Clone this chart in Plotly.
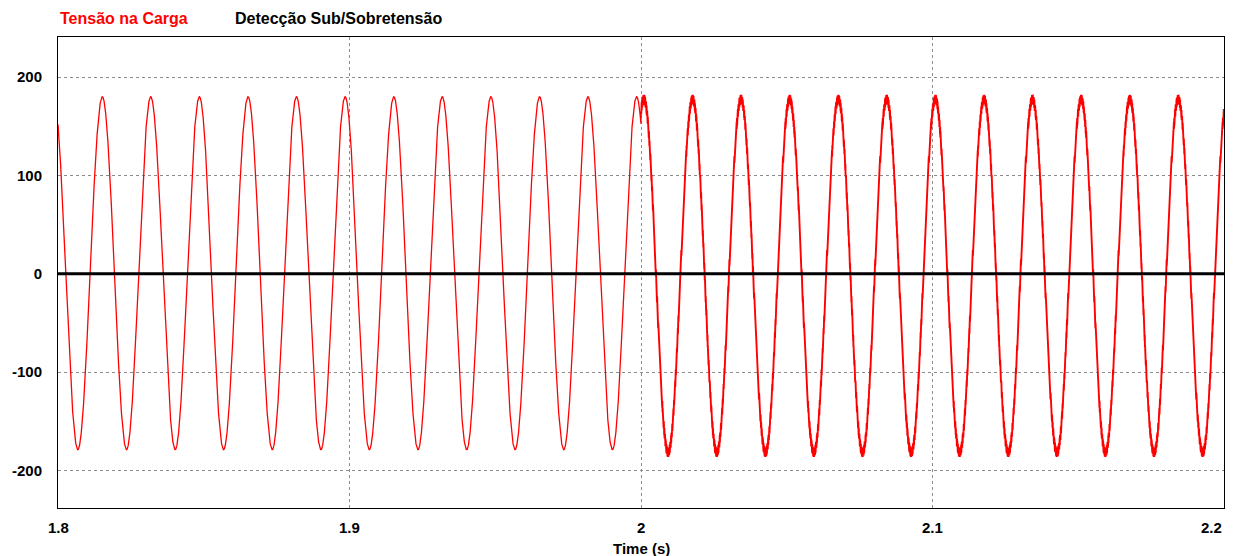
import numpy as np
import plotly.graph_objects as go

# --- Tensão na carga: instantes (s) e valores (V) dos picos e vales ---
# Trecho antes de 2.0 s (sem ondulação)
picos_antes_t = [1.7985, 1.8152, 1.8318, 1.8485, 1.8652, 1.8818, 1.8985,
                 1.9152, 1.9318, 1.9485, 1.9652, 1.9818, 1.9985]
picos_antes_v = [180, 180, 180, 180, 180, 180, 180, 180, 180, 180, 180, 180, 180]
vales_antes_t = [1.8068, 1.8235, 1.8402, 1.8568, 1.8735, 1.8902, 1.9068,
                 1.9235, 1.9402, 1.9568, 1.9735, 1.9902, 2.0068]
vales_antes_v = [-179, -179, -179, -179, -179, -179, -179, -179, -179, -179,
                 -179, -179, -179]

# Trecho depois de 2.0 s (com ondulação de chaveamento)
picos_depois_t = [2.0010, 2.0177, 2.0343, 2.0510, 2.0677, 2.0843, 2.1010,
                  2.1177, 2.1343, 2.1510, 2.1677, 2.1843, 2.2010]
picos_depois_v = [177.5, 177.5, 177.5, 177.5, 177.5, 177.5, 177.5, 177.5,
                  177.5, 177.5, 177.5, 177.5, 177.5]
vales_depois_t = [1.9927, 2.0093, 2.0260, 2.0427, 2.0593, 2.0760, 2.0927,
                  2.1093, 2.1260, 2.1427, 2.1593, 2.1760, 2.1927]
vales_depois_v = [-182, -182, -182, -182, -182, -182, -182, -182, -182, -182,
                  -182, -182, -182]

ondulacao_amp = 4.5        # V
ondulacao_freq = 10000.0   # Hz
t_chaveamento = 2.0        # s

# Detecção Sub/Sobretensão (sinal lógico)
deteccao_t = [1.8, 2.2]
deteccao_v = [0, 0]

# Eixos
x_ticks = [1.8, 1.9, 2.0, 2.1, 2.2]
x_tick_labels = ["1.8", "1.9", "2", "2.1", "2.2"]
y_ticks = [-200, -100, 0, 100, 200]
y_tick_labels = ["-200", "-100", "0", "100", "200"]


def senoide_por_extremos(t, tp, vp, tv, vv):
    """Meias-ondas cossenoidais entre picos e vales consecutivos."""
    te = np.array(tp + tv, dtype=float)
    ve = np.array(vp + vv, dtype=float)
    ordem = np.argsort(te)
    te, ve = te[ordem], ve[ordem]
    i = np.clip(np.searchsorted(te, t, side="right") - 1, 0, len(te) - 2)
    fase = (t - te[i]) / (te[i + 1] - te[i])
    meio = (ve[i] + ve[i + 1]) / 2
    semi = (ve[i] - ve[i + 1]) / 2
    return meio + semi * np.cos(np.pi * fase)


t_a = np.arange(1.8, t_chaveamento, 2e-5)
v_a = senoide_por_extremos(t_a, picos_antes_t, picos_antes_v,
                           vales_antes_t, vales_antes_v)

t_d = np.arange(t_chaveamento, 2.2 + 1e-9, 5e-6)
v_d = senoide_por_extremos(t_d, picos_depois_t, picos_depois_v,
                           vales_depois_t, vales_depois_v)
v_d = v_d + ondulacao_amp * np.sin(2 * np.pi * ondulacao_freq * t_d)

# Ponto de junção para que as duas partes fiquem ligadas
t_a = np.append(t_a, t_d[0])
v_a = np.append(v_a, v_d[0])

fig = go.Figure()
fig.add_trace(go.Scatter(x=t_a, y=v_a, mode="lines",
                         line=dict(color="#ff0000", width=1.3),
                         name="Tensão na Carga", hoverinfo="skip"))
fig.add_trace(go.Scatter(x=t_d, y=v_d, mode="lines",
                         line=dict(color="#ff0000", width=1.9),
                         name="Tensão na Carga", hoverinfo="skip",
                         showlegend=False))
fig.add_trace(go.Scatter(x=deteccao_t, y=deteccao_v, mode="lines",
                         line=dict(color="#000000", width=3),
                         name="Detecção Sub/Sobretensão", hoverinfo="skip"))

fonte = "Liberation Sans, Arial, sans-serif"

fig.update_layout(
    width=1235, height=556,
    margin=dict(l=58, r=11, t=37, b=48),
    paper_bgcolor="white", plot_bgcolor="white",
    showlegend=False,
    font=dict(family=fonte, size=15, color="black"),
)
fig.update_xaxes(
    range=[1.8, 2.2], tickvals=x_ticks, showticklabels=False,
    showgrid=True, gridcolor="#8c8c8c", griddash="3px,3px", gridwidth=1,
    showline=True, linecolor="black", linewidth=1, mirror=True,
    zeroline=False, ticks="",
)
fig.update_yaxes(
    range=[-238.3, 240.7], tickvals=y_ticks, ticktext=y_tick_labels,
    tickfont=dict(family=fonte, size=15, color="black", weight="bold"),
    ticklabelstandoff=12,
    showgrid=True, gridcolor="#8c8c8c", griddash="3px,3px", gridwidth=1,
    showline=True, linecolor="black", linewidth=1, mirror=True,
    zeroline=False, ticks="",
)

# Rótulos do eixo do tempo
for xv, txt in zip(x_ticks, x_tick_labels):
    anc = "right" if xv == x_ticks[-1] else "center"
    fig.add_annotation(x=xv, y=0, xref="x", yref="paper", text=txt,
                       showarrow=False, xanchor=anc, yanchor="middle",
                       yshift=-19.5,
                       font=dict(family=fonte, size=15, color="black",
                                 weight="bold"))

fig.add_annotation(x=0.5, y=0, xref="paper", yref="paper", text="Time (s)",
                   showarrow=False, xanchor="center", yanchor="middle",
                   yshift=-40,
                   font=dict(family=fonte, size=15, color="black",
                             weight="bold"))

# Legenda no topo
fig.add_annotation(x=0, y=1, xref="paper", yref="paper",
                   text="Tensão na Carga", showarrow=False,
                   xanchor="left", yanchor="middle", yshift=18.5,
                   font=dict(family=fonte, size=16, color="#ff0000",
                             weight="bold"))
fig.add_annotation(x=(233 - 58) / 1166, y=1, xref="paper", yref="paper",
                   text="Detecção Sub/Sobretensão", showarrow=False,
                   xanchor="left", yanchor="middle", yshift=18.5,
                   font=dict(family=fonte, size=16, color="black",
                             weight="bold"))

fig.write_html("out.html")
